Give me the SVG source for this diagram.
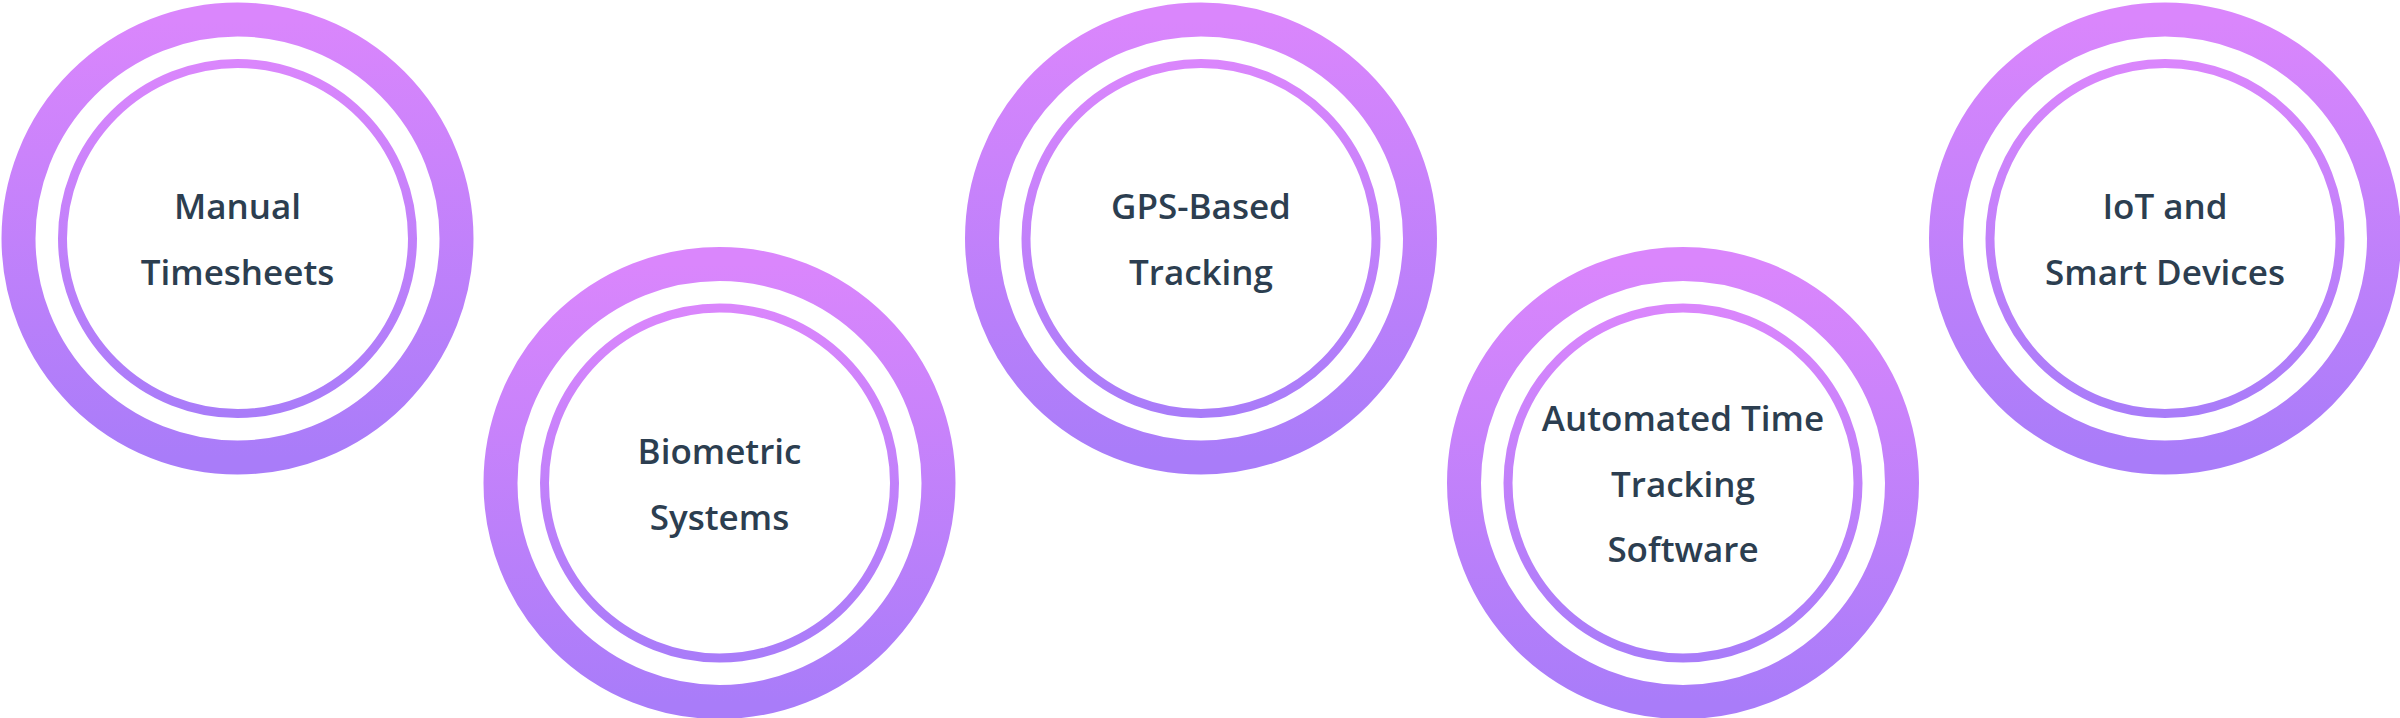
<svg xmlns="http://www.w3.org/2000/svg" width="2400" height="718" viewBox="0 0 2400 718">
  <defs>
    <linearGradient id="g" x1="0" y1="0" x2="0" y2="1">
      <stop offset="0" stop-color="#DA86FC"/>
      <stop offset="1" stop-color="#A97CF9"/>
    </linearGradient>
    <style>
      .outer { fill: none; stroke: url(#g); stroke-width: 34; }
      .inner { fill: #FFFFFF; stroke: url(#g); stroke-width: 9; }
      .label { font-family: "Open Sans", "Noto Sans", "Liberation Sans", sans-serif; font-weight: 600; font-size: 35px; fill: #2C3E50; text-anchor: middle; }
    </style>
  </defs>
  <rect width="2400" height="718" fill="#FFFFFF"/>
  <g id="connectors"></g>
  <g id="node-manual-timesheets">
    <circle class="outer" cx="237.5" cy="238.5" r="219"/>
    <circle class="inner" cx="237.5" cy="238.5" r="175"/>
    <text class="label" x="237.5" y="219">Manual</text>
    <text class="label" x="237.5" y="285">Timesheets</text>
  </g>
  <g id="node-biometric-systems">
    <circle class="outer" cx="719.5" cy="483" r="219"/>
    <circle class="inner" cx="719.5" cy="483" r="175"/>
    <text class="label" x="719.5" y="464">Biometric</text>
    <text class="label" x="719.5" y="530">Systems</text>
  </g>
  <g id="node-gps-based-tracking">
    <circle class="outer" cx="1201" cy="238.5" r="219"/>
    <circle class="inner" cx="1201" cy="238.5" r="175"/>
    <text class="label" x="1201" y="219">GPS-Based</text>
    <text class="label" x="1201" y="285">Tracking</text>
  </g>
  <g id="node-automated-time-tracking-software">
    <circle class="outer" cx="1683" cy="483" r="219"/>
    <circle class="inner" cx="1683" cy="483" r="175"/>
    <text class="label" x="1683" y="431">Automated Time</text>
    <text class="label" x="1683" y="497">Tracking</text>
    <text class="label" x="1683" y="562">Software</text>
  </g>
  <g id="node-iot-smart-devices">
    <circle class="outer" cx="2165" cy="238.5" r="219"/>
    <circle class="inner" cx="2165" cy="238.5" r="175"/>
    <text class="label" x="2165" y="219">IoT and</text>
    <text class="label" x="2165" y="285">Smart Devices</text>
  </g>
</svg>
